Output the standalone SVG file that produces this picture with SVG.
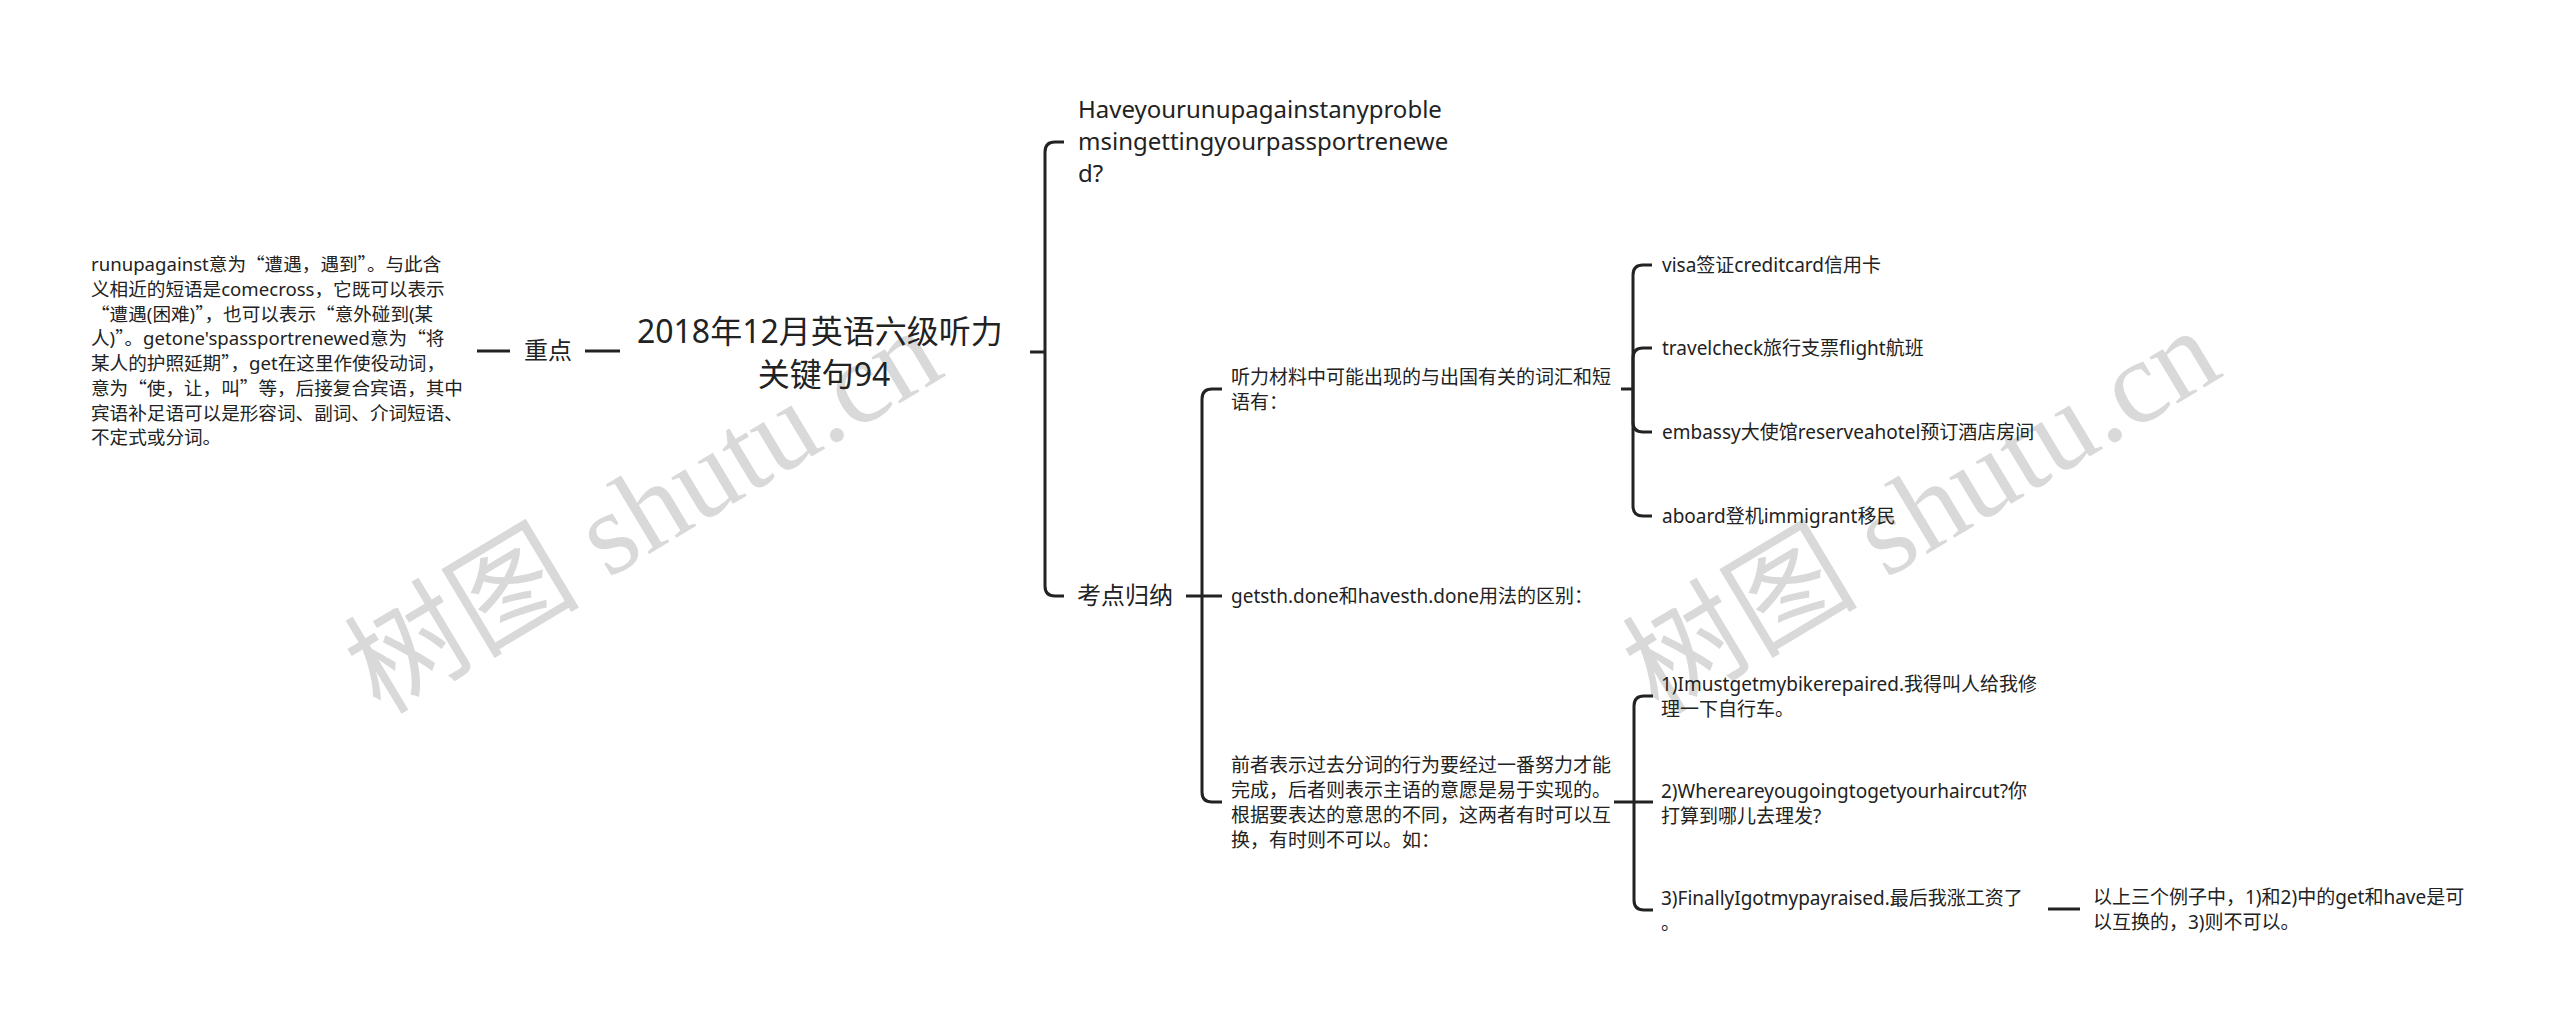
<svg xmlns="http://www.w3.org/2000/svg" width="2560" height="1024" viewBox="0 0 2560 1024">
<style>
  .t { font-family: "Noto Sans", "Noto Sans CJK SC", sans-serif; fill: #222; }
  .q { font-family: "Noto Sans CJK SC", sans-serif; }
  .xs { font-size: 18.6px; }
  .s { font-size: 19px; }
  .m { font-size: 24px; }
  .l { font-size: 32px; }
  .c { fill: none; stroke: #222; stroke-width: 3; }
  .wm { font-family: "Liberation Serif", "Noto Sans CJK SC", serif; font-size: 118px; fill: #d9d9d9; }
</style>
<rect width="2560" height="1024" fill="#ffffff"/>

<g id="watermarks">
  <text class="wm" x="650" y="522" text-anchor="middle" dominant-baseline="middle" transform="rotate(-31 650 522)">树图 shutu.cn</text>
  <text class="wm" x="1928" y="522" text-anchor="middle" dominant-baseline="middle" transform="rotate(-31 1928 522)">树图 shutu.cn</text>
</g>

<g id="connectors">
  <path class="c" d="M477,351 H510"/>
  <path class="c" d="M585,351 H620"/>
  <path class="c" d="M1030,352 H1045"/>
  <path class="c" d="M1045,352 V152 Q1045,142 1055,142 H1064"/>
  <path class="c" d="M1045,352 V586 Q1045,596 1055,596 H1064"/>
  <path class="c" d="M1186,596 H1202"/>
  <path class="c" d="M1202,596 V399 Q1202,389 1212,389 H1222"/>
  <path class="c" d="M1202,596 H1222"/>
  <path class="c" d="M1202,596 V792 Q1202,802 1212,802 H1222"/>
  <path class="c" d="M1621,389 H1633"/>
  <path class="c" d="M1633,389 V275 Q1633,265 1643,265 H1652"/>
  <path class="c" d="M1633,389 V358 Q1633,348 1643,348 H1652"/>
  <path class="c" d="M1633,389 V422 Q1633,432 1643,432 H1652"/>
  <path class="c" d="M1633,389 V506 Q1633,516 1643,516 H1652"/>
  <path class="c" d="M1614,802 H1634"/>
  <path class="c" d="M1634,802 V706 Q1634,696 1644,696 H1653"/>
  <path class="c" d="M1634,802 H1653"/>
  <path class="c" d="M1634,802 V900 Q1634,910 1644,910 H1653"/>
  <path class="c" d="M2048,909 H2080"/>
</g>

<g id="root">
  <text class="t l" x="824" text-anchor="middle">
    <tspan x="824" y="343">2018年12月英语六级听力</tspan>
    <tspan x="824" y="386">关键句94</tspan>
  </text>
</g>

<g id="node-zhongdian">
  <text class="t m" x="548" y="359" text-anchor="middle">重点</text>
</g>

<g id="node-zhongdian-detail">
  <text class="t xs">
    <tspan x="91" y="271.3">runupagainst意为<tspan class="q">“</tspan>遭遇，遇到<tspan class="q">”</tspan>。与此含</tspan>
    <tspan x="91" y="296">义相近的短语是comecross，它既可以表示</tspan>
    <tspan x="91" y="320.7"><tspan class="q">“</tspan>遭遇(困难)<tspan class="q">”</tspan>，也可以表示<tspan class="q">“</tspan>意外碰到(某</tspan>
    <tspan x="91" y="345.4">人)<tspan class="q">”</tspan>。getone'spassportrenewed意为<tspan class="q">“</tspan>将</tspan>
    <tspan x="91" y="370.1">某人的护照延期<tspan class="q">”</tspan>，get在这里作使役动词，</tspan>
    <tspan x="91" y="394.8">意为<tspan class="q">“</tspan>使，让，叫<tspan class="q">”</tspan>等，后接复合宾语，其中</tspan>
    <tspan x="91" y="419.5">宾语补足语可以是形容词、副词、介词短语、</tspan>
    <tspan x="91" y="444.2">不定式或分词。</tspan>
  </text>
</g>

<g id="node-question">
  <text class="t m">
    <tspan x="1078" y="118">Haveyourunupagainstanyproble</tspan>
    <tspan x="1078" y="150">msingettingyourpassportrenewe</tspan>
    <tspan x="1078" y="182">d?</tspan>
  </text>
</g>

<g id="node-kaodian">
  <text class="t m" x="1077" y="604">考点归纳</text>
</g>

<g id="node-vocab">
  <text class="t s">
    <tspan x="1231" y="383.5">听力材料中可能出现的与出国有关的词汇和短</tspan>
    <tspan x="1231" y="408.5">语有：</tspan>
  </text>
</g>

<g id="node-visa"><text class="t s" x="1662" y="272">visa签证creditcard信用卡</text></g>
<g id="node-travel"><text class="t s" x="1662" y="355">travelcheck旅行支票flight航班</text></g>
<g id="node-embassy"><text class="t s" x="1662" y="439">embassy大使馆reserveahotel预订酒店房间</text></g>
<g id="node-aboard"><text class="t s" x="1662" y="523">aboard登机immigrant移民</text></g>

<g id="node-getsth">
  <text class="t s" x="1231" y="603">getsth.done和havesth.done用法的区别：</text>
</g>

<g id="node-difference">
  <text class="t s">
    <tspan x="1231" y="772">前者表示过去分词的行为要经过一番努力才能</tspan>
    <tspan x="1231" y="797">完成，后者则表示主语的意愿是易于实现的。</tspan>
    <tspan x="1231" y="822">根据要表达的意思的不同，这两者有时可以互</tspan>
    <tspan x="1231" y="847">换，有时则不可以。如：</tspan>
  </text>
</g>

<g id="node-ex1">
  <text class="t s">
    <tspan x="1661" y="690.5">1)Imustgetmybikerepaired.我得叫人给我修</tspan>
    <tspan x="1661" y="715.5">理一下自行车。</tspan>
  </text>
</g>
<g id="node-ex2">
  <text class="t s">
    <tspan x="1661" y="797.5">2)Whereareyougoingtogetyourhaircut?你</tspan>
    <tspan x="1661" y="822.5">打算到哪儿去理发?</tspan>
  </text>
</g>
<g id="node-ex3">
  <text class="t s">
    <tspan x="1661" y="904.5">3)FinallyIgotmypayraised.最后我涨工资了</tspan>
    <tspan x="1661" y="929.5">。</tspan>
  </text>
</g>

<g id="node-summary">
  <text class="t s">
    <tspan x="2093" y="904">以上三个例子中，1)和2)中的get和have是可</tspan>
    <tspan x="2093" y="929">以互换的，3)则不可以。</tspan>
  </text>
</g>
</svg>
